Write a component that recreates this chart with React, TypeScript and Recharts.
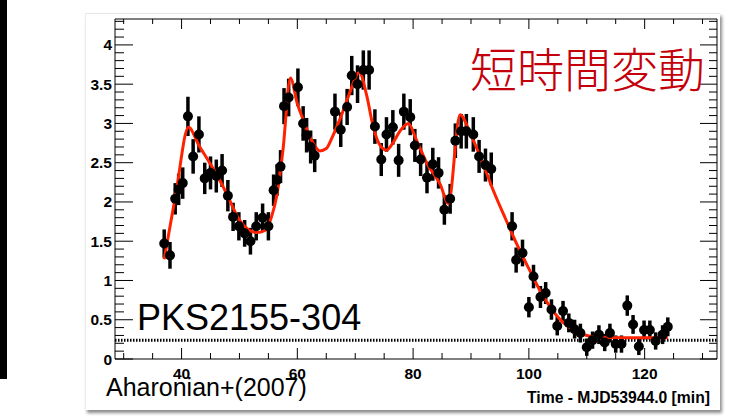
import { ComposedChart, Scatter, Line, XAxis, YAxis, ErrorBar, ReferenceLine } from "recharts";

// 観測点 (time [min], flux, error)
const TIME = [
  37.0, 38.0, 38.9, 39.5, 40.2, 41.1, 42.0, 43.0, 44.0, 45.0, 46.0, 47.0, 48.0, 48.9, 49.9,
  50.9, 51.9, 52.9, 54.0, 55.0, 55.9, 56.5, 57.1, 57.7, 58.5, 60.1, 61.0, 61.6, 62.3, 63.0,
  66.5, 67.5, 68.6, 69.4, 70.4, 71.4, 72.4, 73.4, 74.5, 75.4, 76.5, 77.5, 78.4, 79.5, 80.3,
  81.3, 82.4, 83.4, 84.4, 85.4, 86.4, 87.3, 88.3, 89.2, 90.4, 91.4, 92.5, 93.5,
  97.1, 97.8, 98.9, 100.0, 100.8, 102.0, 102.9, 103.9, 104.9, 105.9, 106.9, 107.9, 108.9,
  110.0, 111.0, 112.1, 113.1, 114.0, 115.0, 116.0, 117.0, 118.0, 119.0, 119.9, 120.9, 121.9,
  123.1, 124.0,
];
const FLUX = [
  1.47, 1.32, 2.04, 2.16, 2.24, 3.09, 2.58, 2.86, 2.30, 2.37, 2.33, 2.40, 2.08, 1.81, 1.69,
  1.60, 1.50, 1.69, 1.80, 1.69, 2.15, 2.28, 2.45, 3.22, 3.33, 3.46, 3.00, 2.85, 2.70, 2.59,
  3.15, 2.92, 3.21, 3.61, 3.50, 3.68, 3.68, 2.96, 2.54, 2.86, 2.95, 2.53, 3.15, 3.08, 2.72,
  2.54, 2.31, 2.48, 2.37, 1.90, 2.04, 2.78, 2.90, 2.90, 2.86, 2.58, 2.47, 2.42,
  1.69, 1.26, 1.35, 0.66, 1.05, 0.79, 0.84, 0.63, 0.42, 0.61, 0.46, 0.38, 0.33,
  0.15, 0.24, 0.31, 0.21, 0.33, 0.19, 0.19, 0.68, 0.44, 0.16, 0.37, 0.37, 0.23,
  0.31, 0.41,
];
const ERR = [
  0.18, 0.17, 0.2, 0.2, 0.2, 0.25, 0.22, 0.23, 0.2, 0.21, 0.21, 0.21, 0.2, 0.18, 0.18,
  0.17, 0.17, 0.18, 0.18, 0.18, 0.2, 0.2, 0.21, 0.23, 0.24, 0.24, 0.22, 0.22, 0.21, 0.21,
  0.23, 0.22, 0.23, 0.25, 0.24, 0.25, 0.25, 0.22, 0.21, 0.22, 0.22, 0.21, 0.23, 0.23, 0.21,
  0.21, 0.2, 0.21, 0.2, 0.19, 0.19, 0.22, 0.22, 0.22, 0.22, 0.21, 0.21, 0.21,
  0.18, 0.16, 0.17, 0.13, 0.15, 0.14, 0.14, 0.13, 0.12, 0.13, 0.12, 0.12, 0.12,
  0.11, 0.11, 0.12, 0.11, 0.12, 0.11, 0.11, 0.13, 0.12, 0.11, 0.12, 0.12, 0.11,
  0.12, 0.12,
];

// フィット曲線
const FIT_T = [
  37, 39, 41.2, 43, 45, 47, 48, 50, 51.5, 52.9, 54.5, 55.5, 56.5, 57.5, 58.8, 60, 61, 62.5,
  63.9, 65, 66, 67.5, 69, 70.7, 72, 73.1, 74.3, 75.4, 76.5, 77.7, 79.2, 80.5, 82.4, 84.7,
  86.1, 88.1, 90, 92, 94, 96, 98, 100, 102, 104, 106, 108, 110, 112, 116, 124,
];
const FIT_F = [
  1.27, 2.1, 2.95, 2.72, 2.48, 2.22, 2.07, 1.77, 1.65, 1.61, 1.64, 1.8, 2.1, 2.65, 3.58, 3.25, 3.05, 2.78,
  2.65, 2.68, 2.82, 3.08, 3.38, 3.65, 3.35, 2.96, 2.72, 2.66, 2.75, 2.9, 3.0, 2.8, 2.49, 2.22,
  1.98, 3.11, 2.85, 2.5, 2.12, 1.78, 1.45, 1.15, 0.86, 0.63, 0.46, 0.36, 0.3, 0.28, 0.27, 0.27,
];

const BASELINE = 0.24;
const X_DOMAIN = [28.5, 132.5];
const Y_DOMAIN = [0, 4.33];
const X_LABELS = ["40", "60", "80", "100", "120"];
const Y_LABELS = ["0", "0.5", "1", "1.5", "2", "2.5", "3", "3.5", "4"];

const points = TIME.map((t, i) => ({ t, f: FLUX[i], e: ERR[i] }));
const fit = FIT_T.map((t, i) => ({ t, f: FIT_F[i] }));

const xTicks: number[] = [];
for (let v = 30; v <= 130; v += 5) xTicks.push(v);
const yTicks: number[] = [];
for (let i = 0; i <= 43; i++) yTicks.push(i / 10);

const isYMajor = (v: number) => Y_LABELS.includes(String(v));
const isXMajor = (v: number) => X_LABELS.includes(String(v));

const LBL = { fontFamily: "Liberation Sans, Arial, sans-serif", fontWeight: 700, fontSize: 15.5, fill: "#000" };

// eslint-disable-next-line @typescript-eslint/no-explicit-any
const LeftTick = (p: any) => {
  const v = p.payload.value;
  const maj = isYMajor(v);
  return (
    <g>
      <line x1={p.x} x2={p.x + (maj ? 18 : 9)} y1={p.y} y2={p.y} stroke="#000" />
      {maj && <text x={p.x - 3} y={p.y + 5.5} textAnchor="end" style={LBL}>{String(v)}</text>}
    </g>
  );
};
// eslint-disable-next-line @typescript-eslint/no-explicit-any
const RightTick = (p: any) => {
  const maj = isYMajor(p.payload.value);
  return <line x1={p.x} x2={p.x - (maj ? 17 : 8)} y1={p.y} y2={p.y} stroke="#000" />;
};
// eslint-disable-next-line @typescript-eslint/no-explicit-any
const BottomTick = (p: any) => {
  const v = p.payload.value;
  const maj = isXMajor(v);
  return (
    <g>
      <line x1={p.x} x2={p.x} y1={p.y} y2={p.y - (maj ? 11 : 6)} stroke="#000" />
      {maj && <text x={p.x} y={p.y + 20} textAnchor="middle" style={LBL}>{String(v)}</text>}
    </g>
  );
};
// eslint-disable-next-line @typescript-eslint/no-explicit-any
const TopTick = (p: any) => {
  const maj = isXMajor(p.payload.value);
  return <line x1={p.x} x2={p.x} y1={p.y} y2={p.y + (maj ? 10 : 5)} stroke="#000" />;
};

// eslint-disable-next-line @typescript-eslint/no-explicit-any
const Dot = (p: any) => <circle cx={p.cx} cy={p.cy} r={5} fill="#000" />;

export default function App() {
  return (
    <div style={{ position: "absolute", left: 0, top: 0, width: 731, height: 418, background: "#fff", fontFamily: "Liberation Sans, Arial, sans-serif" }}>
      <div style={{ position: "absolute", left: 0, top: 0, width: 7, height: 379, background: "#000" }} />
      <div style={{ position: "absolute", left: 85, top: 13, width: 634, height: 396, background: "#fff", borderTop: "1px solid #e6e6e6", borderLeft: "1px solid #eee", boxShadow: "2px 3px 3px rgba(0,0,0,0.45)" }} />
      <div style={{ position: "absolute", left: 0, top: 0 }}>
        <ComposedChart width={731} height={418} margin={{ top: 18, right: 13, bottom: 29, left: 75 }}>
          <XAxis xAxisId="b" type="number" dataKey="t" domain={X_DOMAIN} allowDataOverflow ticks={xTicks} interval={0}
            tickSize={0} tickMargin={0} tickLine={false} tick={(p) => <BottomTick {...p} />} axisLine={{ stroke: "#000" }} height={30} />
          <XAxis xAxisId="t" orientation="top" type="number" dataKey="t" domain={X_DOMAIN} allowDataOverflow ticks={xTicks} interval={0}
            tickSize={0} tickMargin={0} tickLine={false} tick={(p) => <TopTick {...p} />} axisLine={{ stroke: "#000" }} height={1} />
          <YAxis yAxisId="l" type="number" domain={Y_DOMAIN} allowDataOverflow ticks={yTicks} interval={0}
            tickSize={0} tickMargin={0} tickLine={false} tick={(p) => <LeftTick {...p} />} axisLine={{ stroke: "#000" }} width={40} />
          <YAxis yAxisId="r" orientation="right" type="number" domain={Y_DOMAIN} allowDataOverflow ticks={yTicks} interval={0}
            tickSize={0} tickMargin={0} tickLine={false} tick={(p) => <RightTick {...p} />} axisLine={{ stroke: "#000" }} width={1} />
          <ReferenceLine xAxisId="b" yAxisId="l" y={BASELINE} stroke="#000" strokeWidth={3} strokeDasharray="1.5 1.5" />
          <Scatter xAxisId="b" yAxisId="l" data={points} dataKey="f" shape={Dot} isAnimationActive={false}>
            <ErrorBar dataKey="e" direction="y" width={0} stroke="#000" strokeWidth={3.5} />
          </Scatter>
          <Line xAxisId="t" yAxisId="r" data={fit} dataKey="f" type="monotone" stroke="#ff2200" strokeWidth={3}
            dot={false} activeDot={false} isAnimationActive={false} />
        </ComposedChart>
      </div>
      <svg width={731} height={418} style={{ position: "absolute", left: 0, top: 0, pointerEvents: "none" }}>
        <text x={470} y={87} fontSize={47} fill="#c4000a" style={{ fontFamily: "Noto Sans CJK JP", fontWeight: 300 }}>短時間変動</text>
        <text x={137} y={330} fontSize={36} fill="#000">PKS2155-304</text>
        <text x={106} y={396} fontSize={25} fill="#000">Aharonian+(2007)</text>
        <text x={710} y={403} textAnchor="end" fontSize={17} fontWeight={700} fill="#000" textLength={183} lengthAdjust="spacingAndGlyphs">
          Time - MJD53944.0 [min]
        </text>
      </svg>
    </div>
  );
}
